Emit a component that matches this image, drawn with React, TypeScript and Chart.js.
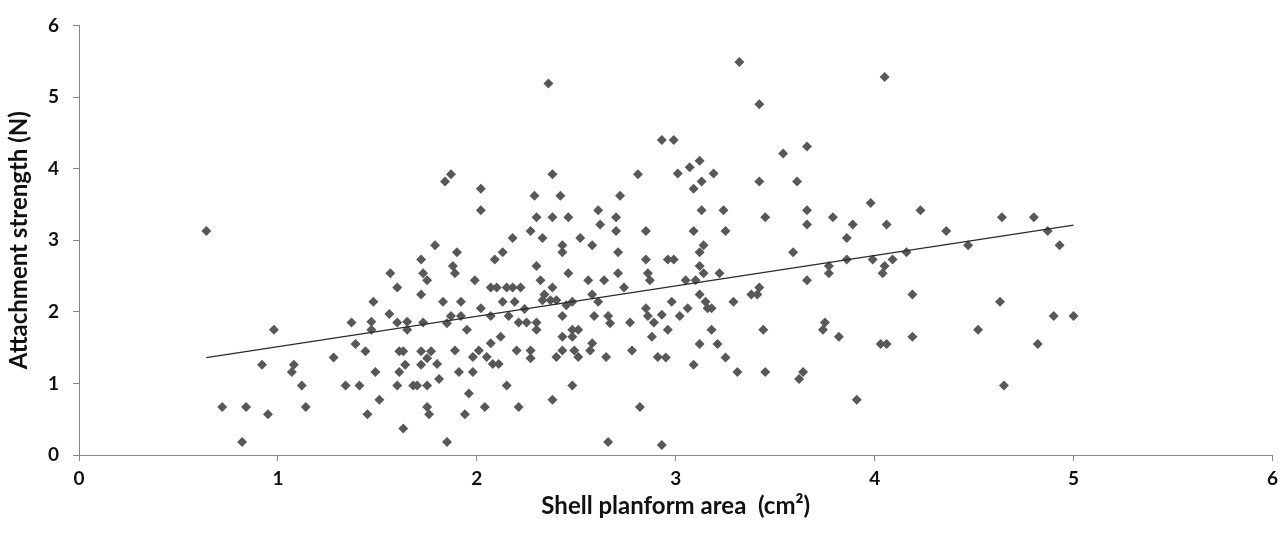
import React, { useEffect, useRef } from "react";
import { Chart, registerables } from "chart.js";

Chart.register(...registerables);

// Shell planform area (cm²)
const shellArea: number[] = [
  0.64, 1.72, 1.565, 1.73, 1.75, 1.60, 1.72, 1.48, 1.56,
  1.37, 1.47, 1.47, 1.60, 1.65, 1.65, 1.73, 0.98, 1.39, 1.44, 1.28,
  1.61, 1.63, 1.72, 1.77, 1.75, 0.92, 1.08, 1.07, 1.64, 1.72,
  1.49, 1.61, 1.12, 1.34, 1.41, 1.60, 1.68, 1.70, 1.75, 1.51,
  0.72, 0.84, 0.95, 1.14, 1.45, 1.63, 1.75, 1.76, 0.82,
  1.87, 1.84, 2.38, 2.81, 2.02, 2.02, 2.29, 2.42, 2.72, 2.30,
  2.38, 2.46, 2.61, 2.70, 2.62, 2.27, 2.33, 2.70, 2.85, 2.18,
  2.52, 1.79, 2.43, 2.58, 2.43, 1.90, 2.13, 2.71, 2.09, 2.85,
  1.88, 1.89, 2.30, 2.46, 2.71, 2.86, 2.87, 1.99, 2.32, 2.56,
  2.64, 2.07, 2.10, 2.15, 2.18, 2.22, 2.38, 2.74, 2.34, 2.58,
  1.83, 1.92, 2.13, 2.19, 2.33, 2.37, 2.40, 2.45, 2.48, 2.61,
  2.85, 2.02,
  2.24, 1.87, 1.92, 1.85, 2.07, 2.16, 2.21, 2.25, 2.30, 2.30,
  1.95, 2.43, 2.59, 2.66, 2.67, 2.48, 2.51, 2.77, 2.86, 2.89,
  2.12, 2.43, 2.48, 2.88, 2.07, 2.58, 1.89, 2.01, 2.20, 2.27,
  2.43, 2.49, 2.57, 2.78, 1.98, 2.05, 2.27, 2.40, 2.51, 2.65,
  2.91, 1.80, 2.08, 2.11, 1.91, 1.98, 1.81, 2.15, 2.48, 1.96,
  2.38, 1.94, 2.04, 2.21, 2.82, 1.85, 2.66,
  3.32, 3.42, 4.05, 2.93, 2.99, 3.54, 3.66, 3.12, 3.07, 3.01,
  3.19, 2.36,
  3.13, 3.09, 3.42, 3.61, 3.98, 3.13, 3.24, 3.66, 3.45, 3.79,
  3.66, 3.89, 4.06, 3.09, 3.25, 3.86, 3.14, 3.12, 3.59, 2.96,
  2.99, 3.86, 3.99, 3.12, 3.77, 4.05, 3.14, 3.22, 3.77, 4.04,
  3.05, 3.10, 3.66, 3.42, 3.38, 3.41, 3.12, 2.98, 3.15, 3.29,
  3.06, 3.16, 3.18, 2.93,
  3.02, 2.96, 3.18, 3.44, 3.75, 3.74, 3.82, 4.03, 4.06, 3.12,
  3.21, 2.95, 3.09, 3.25, 3.31, 3.45, 3.64, 3.62, 3.91, 2.93,
  4.23, 4.36, 4.64, 4.80, 4.87, 4.93, 4.47, 4.16, 4.09, 4.19,
  4.63, 4.90, 5.00, 4.19, 4.52, 4.82, 4.65,
];

// Attachment strength (N)
const attachStrength: number[] = [
  3.13, 2.73, 2.54, 2.54, 2.44, 2.34, 2.24, 2.14, 1.97,
  1.85, 1.86, 1.75, 1.85, 1.86, 1.75, 1.85, 1.75, 1.55, 1.45, 1.36,
  1.45, 1.45, 1.45, 1.45, 1.35, 1.26, 1.26, 1.16, 1.26, 1.26,
  1.16, 1.16, 0.97, 0.97, 0.97, 0.97, 0.97, 0.97, 0.97, 0.77,
  0.67, 0.67, 0.57, 0.67, 0.57, 0.37, 0.67, 0.57, 0.18,
  3.92, 3.82, 3.92, 3.92, 3.72, 3.42, 3.62, 3.62, 3.62, 3.32,
  3.32, 3.32, 3.42, 3.32, 3.22, 3.13, 3.03, 3.13, 3.13, 3.03,
  3.03, 2.93, 2.93, 2.93, 2.83, 2.83, 2.83, 2.83, 2.73, 2.73,
  2.64, 2.54, 2.64, 2.54, 2.54, 2.54, 2.44, 2.44, 2.44, 2.44,
  2.44, 2.34, 2.34, 2.34, 2.34, 2.34, 2.34, 2.34, 2.24, 2.24,
  2.14, 2.14, 2.14, 2.14, 2.16, 2.16, 2.16, 2.09, 2.14, 2.14,
  2.05, 2.05,
  2.04, 1.94, 1.94, 1.84, 1.94, 1.94, 1.85, 1.85, 1.85, 1.75,
  1.75, 1.94, 1.94, 1.94, 1.84, 1.75, 1.75, 1.85, 1.94, 1.85,
  1.65, 1.65, 1.65, 1.65, 1.56, 1.56, 1.46, 1.46, 1.46, 1.46,
  1.46, 1.46, 1.46, 1.46, 1.37, 1.37, 1.35, 1.37, 1.37, 1.37,
  1.37, 1.27, 1.27, 1.27, 1.16, 1.16, 1.06, 0.97, 0.97, 0.86,
  0.77, 0.57, 0.67, 0.67, 0.67, 0.18, 0.18,
  5.49, 4.90, 5.28, 4.40, 4.40, 4.21, 4.31, 4.11, 4.02, 3.93,
  3.93, 5.19,
  3.82, 3.72, 3.82, 3.82, 3.52, 3.42, 3.42, 3.42, 3.32, 3.32,
  3.22, 3.22, 3.22, 3.13, 3.13, 3.03, 2.93, 2.83, 2.83, 2.73,
  2.73, 2.73, 2.73, 2.64, 2.64, 2.64, 2.54, 2.54, 2.54, 2.54,
  2.44, 2.44, 2.44, 2.34, 2.24, 2.24, 2.24, 2.14, 2.14, 2.14,
  2.05, 2.05, 2.05, 1.96,
  1.94, 1.75, 1.75, 1.75, 1.85, 1.75, 1.65, 1.55, 1.55, 1.55,
  1.55, 1.36, 1.26, 1.36, 1.16, 1.16, 1.16, 1.06, 0.77, 0.14,
  3.42, 3.13, 3.32, 3.32, 3.13, 2.93, 2.93, 2.83, 2.73, 2.24,
  2.14, 1.94, 1.94, 1.65, 1.75, 1.55, 0.97,
];

// Linear trend line end points
const trendX: number[] = [0.64, 5.0];
const trendY: number[] = [1.36, 3.21];

const xTicks: number[] = [0, 1, 2, 3, 4, 5, 6];
const yTicks: number[] = [0, 1, 2, 3, 4, 5, 6];

const FONT = "Lato, 'Open Sans', sans-serif";
const AXIS_COLOR = "#868686";
const TEXT_COLOR = "#111111";

export default function App() {
  const canvasRef = useRef<HTMLCanvasElement | null>(null);

  useEffect(() => {
    if (!canvasRef.current) return;
    const points = shellArea.map((x, i) => ({ x, y: attachStrength[i] }));
    const trend = trendX.map((x, i) => ({ x, y: trendY[i] }));

    const chart = new Chart(canvasRef.current, {
      type: "scatter",
      data: {
        datasets: [
          {
            type: "line",
            data: trend,
            borderColor: "#2b2b2b",
            borderWidth: 1.3,
            pointRadius: 0,
            showLine: true,
            fill: false,
          } as any,
          {
            data: points,
            pointStyle: "rectRot",
            pointRadius: 5,
            backgroundColor: "#585858",
            borderColor: "#585858",
            borderWidth: 0,
          },
        ],
      },
      options: {
        animation: false,
        responsive: true,
        maintainAspectRatio: false,
        layout: { padding: { top: 16, right: 9, left: 0, bottom: 0 } },
        plugins: {
          legend: { display: false },
          tooltip: { enabled: false },
        },
        scales: {
          x: {
            type: "linear",
            min: 0,
            max: 6,
            afterBuildTicks: (scale: any) => {
              scale.ticks = xTicks.map((v) => ({ value: v }));
            },
            afterFit: (scale: any) => {
              scale.height = 78;
            },
            grid: {
              display: true,
              drawOnChartArea: false,
              drawTicks: true,
              tickLength: 6,
              color: AXIS_COLOR,
            },
            border: { display: true, color: AXIS_COLOR, width: 1 },
            ticks: {
              padding: 6,
              color: TEXT_COLOR,
              font: { family: FONT, size: 19, weight: "bold" },
              maxRotation: 0,
            },
            title: {
              display: true,
              text: "Shell planform area  (cm²)",
              color: TEXT_COLOR,
              font: { family: FONT, size: 24, weight: "bold" },
              padding: { top: 0, bottom: 12 },
            },
          },
          y: {
            type: "linear",
            min: 0,
            max: 6,
            afterBuildTicks: (scale: any) => {
              scale.ticks = yTicks.map((v) => ({ value: v }));
            },
            afterFit: (scale: any) => {
              scale.width = 79;
            },
            grid: {
              display: true,
              drawOnChartArea: false,
              drawTicks: true,
              tickLength: 6,
              color: AXIS_COLOR,
            },
            border: { display: true, color: AXIS_COLOR, width: 1 },
            ticks: {
              padding: 14,
              color: TEXT_COLOR,
              font: { family: FONT, size: 19, weight: "bold" },
            },
            title: {
              display: true,
              text: "Attachment strength (N)",
              color: TEXT_COLOR,
              font: { family: FONT, size: 24, weight: "bold" },
              padding: { top: 5, bottom: 0 },
            },
          },
        },
      },
    });

    return () => chart.destroy();
  }, []);

  return (
    <div
      style={{
        position: "fixed",
        left: 0,
        top: 0,
        width: 1284,
        height: 533,
        background: "#ffffff",
      }}
    >
      <canvas ref={canvasRef} />
    </div>
  );
}
